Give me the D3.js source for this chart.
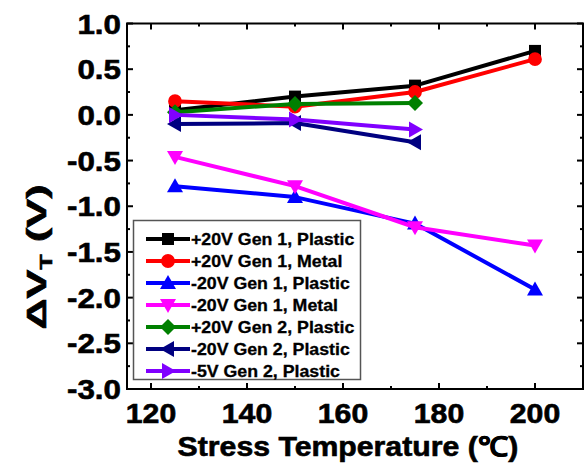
<!DOCTYPE html>
<html>
<head>
<meta charset="utf-8">
<script src="https://cdn.jsdelivr.net/npm/d3@7"></script>
<style>
  body { margin: 0; background: #fff; }
  svg text { font-family: Arial, "Liberation Sans", sans-serif; font-weight: bold; }
  .heavy { stroke: #000; stroke-width: 0.6px; }
  .heavy-small { stroke: #000; stroke-width: 0.3px; }
</style>
</head>
<body>
<svg id="chart" width="585" height="463"></svg>
<script>
// temperatures (C)
const temps = [125, 150, 175, 200];

const seriesNames = [
  '+20V Gen 1, Plastic',
  '+20V Gen 1, Metal',
  '-20V Gen 1, Plastic',
  '-20V Gen 1, Metal',
  '+20V Gen 2, Plastic',
  '-20V Gen 2, Plastic',
  '-5V Gen 2, Plastic'
];
const seriesColors = ['#000000', '#ff0000', '#0000ff', '#ff00ff', '#008000', '#000080', '#8000ff'];
const seriesSymbols = ['square', 'circle', 'up', 'down', 'diamond', 'left', 'right'];

// delta VT values (V), null = not measured
const pos20Gen1Plastic = [0.05, 0.20, 0.32, 0.70];
const pos20Gen1Metal   = [0.15, 0.09, 0.25, 0.61];
const neg20Gen1Plastic = [-0.78, -0.90, -1.19, -1.91];
const neg20Gen1Metal   = [-0.46, -0.78, -1.23, -1.43];
const pos20Gen2Plastic = [0.03, 0.12, 0.13, null];
const neg20Gen2Plastic = [-0.10, -0.09, -0.30, null];
const neg5Gen2Plastic  = [0.00, -0.05, -0.16, null];

const seriesValues = [pos20Gen1Plastic, pos20Gen1Metal, neg20Gen1Plastic, neg20Gen1Metal,
                      pos20Gen2Plastic, neg20Gen2Plastic, neg5Gen2Plastic];

const xTicks = [120, 140, 160, 180, 200];
const yTicks = [1.0, 0.5, 0.0, -0.5, -1.0, -1.5, -2.0, -2.5, -3.0];

const plot = { left: 127, right: 583, top: 23.5, bottom: 389 };

const svg = d3.select('#chart');

const x = d3.scaleLinear().domain([115, 210]).range([plot.left, plot.right]);
const y = d3.scaleLinear().domain([-3, 1]).range([plot.bottom, plot.top]);

// the original's lettering is drawn wider than plain Arial
const stretch = 1.12;

// marker path for a symbol type
function markerPath(type) {
  const s = 7;
  switch (type) {
    case 'square': return `M${-6},${-6}H6V6H-6Z`;
    case 'circle': return d3.symbol(d3.symbolCircle, 150)();
    case 'diamond': return `M0,${-s - 1}L${s + 1},0L0,${s + 1}L${-s - 1},0Z`;
    case 'up': return `M0,${-s - 1}L${s + 1},${s - 1}L${-s - 1},${s - 1}Z`;
    case 'down': return `M0,${s + 1}L${s + 1},${-s + 1}L${-s - 1},${-s + 1}Z`;
    case 'left': return `M${-s - 1},0L${s - 1},${-s - 1}L${s - 1},${s + 1}Z`;
    case 'right': return `M${s + 1},0L${-s + 1},${-s - 1}L${-s + 1},${s + 1}Z`;
  }
}

// axes: ticks pointing inward on all four sides
const tickLen = 6, minorLen = 3;
const axisG = svg.append('g').attr('stroke', '#000').attr('stroke-width', 2);

const xMinor = d3.range(130, 210, 20);
const yMinor = d3.range(-2.75, 1, 0.5);

xTicks.forEach(t => {
  axisG.append('line').attr('x1', x(t)).attr('x2', x(t)).attr('y1', plot.bottom).attr('y2', plot.bottom - tickLen);
  axisG.append('line').attr('x1', x(t)).attr('x2', x(t)).attr('y1', plot.top).attr('y2', plot.top + tickLen);
});
xMinor.forEach(t => {
  axisG.append('line').attr('x1', x(t)).attr('x2', x(t)).attr('y1', plot.bottom).attr('y2', plot.bottom - minorLen);
  axisG.append('line').attr('x1', x(t)).attr('x2', x(t)).attr('y1', plot.top).attr('y2', plot.top + minorLen);
});
yTicks.forEach(t => {
  axisG.append('line').attr('y1', y(t)).attr('y2', y(t)).attr('x1', plot.left).attr('x2', plot.left + tickLen);
  axisG.append('line').attr('y1', y(t)).attr('y2', y(t)).attr('x1', plot.right).attr('x2', plot.right - tickLen);
});
yMinor.forEach(t => {
  axisG.append('line').attr('y1', y(t)).attr('y2', y(t)).attr('x1', plot.left).attr('x2', plot.left + minorLen);
  axisG.append('line').attr('y1', y(t)).attr('y2', y(t)).attr('x1', plot.right).attr('x2', plot.right - minorLen);
});

axisG.append('rect')
  .attr('x', plot.left).attr('y', plot.top)
  .attr('width', plot.right - plot.left).attr('height', plot.bottom - plot.top)
  .attr('fill', 'none');

// tick labels
svg.append('g').selectAll('text').data(yTicks).enter().append('text')
  .attr('class', 'heavy')
  .attr('transform', d => `translate(${plot.left - 6},${y(d) + 10}) scale(${stretch},1)`)
  .attr('text-anchor', 'end')
  .attr('font-size', 28)
  .text(d => d3.format('.1f')(d).replace('−', '-'));

svg.append('g').selectAll('text').data(xTicks).enter().append('text')
  .attr('class', 'heavy')
  .attr('transform', d => `translate(${x(d)},423) scale(${stretch},1)`)
  .attr('text-anchor', 'middle')
  .attr('font-size', 27)
  .text(d => d);

// axis titles
svg.append('text')
  .attr('class', 'heavy')
  .attr('transform', `translate(${(plot.left + plot.right) / 2 - 7},456) scale(${stretch},1)`)
  .attr('text-anchor', 'middle')
  .attr('font-size', 27)
  .text('Stress Temperature (\u2103)');

const yTitle = svg.append('text')
  .attr('class', 'heavy')
  .attr('transform', 'translate(46,257) rotate(-90) scale(1.55,1)')
  .attr('text-anchor', 'middle')
  .attr('font-size', 28);
yTitle.append('tspan').text('\u0394V');
yTitle.append('tspan').attr('font-size', 16).attr('dy', 6).text('T');
yTitle.append('tspan').attr('dy', -6).text(' (V)');

// series lines + markers
const line = d3.line()
  .defined(d => d.v !== null)
  .x(d => x(d.t))
  .y(d => y(d.v));

seriesValues.forEach((vals, i) => {
  const pts = temps.map((t, j) => ({ t: t, v: vals[j] }));
  const g = svg.append('g');
  g.append('path')
    .attr('d', line(pts))
    .attr('fill', 'none')
    .attr('stroke', seriesColors[i])
    .attr('stroke-width', 4)
    .attr('stroke-linejoin', 'round');
  g.selectAll('path.m').data(pts.filter(d => d.v !== null)).enter().append('path')
    .attr('class', 'm')
    .attr('d', markerPath(seriesSymbols[i]))
    .attr('transform', d => `translate(${x(d.t)},${y(d.v)})`)
    .attr('fill', seriesColors[i]);
});

// legend
const legend = svg.append('g');
legend.append('rect')
  .attr('x', 133.5).attr('y', 220.5)
  .attr('width', 227).attr('height', 159)
  .attr('fill', '#fff')
  .attr('stroke', '#555')
  .attr('stroke-width', 1.5);

seriesNames.forEach((name, i) => {
  const cy = 239 + i * 22;
  const row = legend.append('g');
  row.append('line')
    .attr('x1', 146).attr('x2', 190)
    .attr('y1', cy).attr('y2', cy)
    .attr('stroke', seriesColors[i]).attr('stroke-width', 4);
  row.append('path')
    .attr('d', markerPath(seriesSymbols[i]))
    .attr('transform', `translate(168,${cy})`)
    .attr('fill', seriesColors[i]);
  row.append('text')
    .attr('class', 'heavy-small')
    .attr('transform', `translate(191,${cy + 6}) scale(1.11,1)`)
    .attr('font-size', 16)
    .text(name);
});
</script>
</body>
</html>
